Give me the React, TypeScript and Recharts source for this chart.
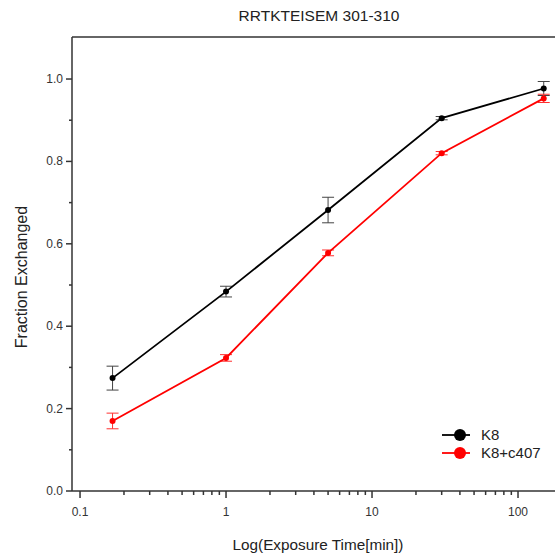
import React from "react";
import { LineChart, Line, XAxis, YAxis, ErrorBar, ReferenceLine } from "recharts";

const times = [0.167, 1, 5, 30, 150];
const k8 = [0.274, 0.484, 0.682, 0.905, 0.977];
const k8Err = [0.029, 0.013, 0.031, 0.004, 0.017];
const c407 = [0.17, 0.323, 0.578, 0.82, 0.953];
const c407Err = [0.019, 0.008, 0.007, 0.004, 0.01];

const seriesNames = ["K8", "K8+c407"];
const seriesColors = ["#000000", "#ff0000"];

const xTicks = [
  0.1, 0.2, 0.3, 0.4, 0.5, 0.6, 0.7, 0.8, 0.9,
  1, 2, 3, 4, 5, 6, 7, 8, 9,
  10, 20, 30, 40, 50, 60, 70, 80, 90,
  100,
];
const xMajor = [0.1, 1, 10, 100];
const xMajorLabels = ["0.1", "1", "10", "100"];
const yTicks = [0, 0.1, 0.2, 0.3, 0.4, 0.5, 0.6, 0.7, 0.8, 0.9, 1.0];
const yMajorLabels = ["0.0", "0.2", "0.4", "0.6", "0.8", "1.0"];

const data = times.map((t, i) => ({
  t,
  k8: k8[i],
  k8Err: k8Err[i],
  c407: c407[i],
  c407Err: c407Err[i],
}));

const FONT = "'Liberation Sans', Arial, sans-serif";
const AXIS = "#333";

const XTick = (props: any) => {
  const { x, y, payload } = props;
  const v = payload.value;
  const mi = xMajor.findIndex((m) => Math.abs(m - v) < 1e-9);
  const major = mi >= 0;
  return (
    <g>
      <line x1={x} x2={x} y1={y} y2={y + (major ? 7 : 4)} stroke={AXIS} strokeWidth={1.5} />
      {major && (
        <text x={x} y={y + 25} textAnchor="middle" fontSize={12} fontFamily={FONT} fill="#333">
          {xMajorLabels[mi]}
        </text>
      )}
    </g>
  );
};

const YTick = (props: any) => {
  const { x, y, payload } = props;
  const v = payload.value;
  const idx = Math.round(v * 10);
  const major = idx % 2 === 0;
  return (
    <g>
      <line x1={x} x2={x - (major ? 6 : 3)} y1={y} y2={y} stroke={AXIS} strokeWidth={1.5} />
      {major && (
        <text x={x - 9} y={y + 4} textAnchor="end" fontSize={12} fontFamily={FONT} fill="#333">
          {yMajorLabels[idx / 2]}
        </text>
      )}
    </g>
  );
};

const Y_MAX = 1.102;

export default function App() {
  return (
    <div
      style={{
        position: "absolute",
        left: 0,
        top: 0,
        width: 555,
        height: 559,
        overflow: "hidden",
        background: "#fff",
        fontFamily: FONT,
      }}
    >
      <LineChart
        width={555}
        height={559}
        data={data}
        margin={{ top: 37, right: 0, bottom: 0, left: 0 }}
      >
        <XAxis
          dataKey="t"
          type="number"
          scale="log"
          domain={[0.0881, 179.2]}
          allowDataOverflow
          ticks={xTicks}
          interval={0}
          tick={<XTick />}
          tickLine={false}
          tickSize={0}
          tickMargin={0}
          height={68}
          axisLine={{ stroke: AXIS, strokeWidth: 1.5 }}
        />
        <YAxis
          type="number"
          domain={[0, Y_MAX]}
          allowDataOverflow
          ticks={yTicks}
          interval={0}
          tick={<YTick />}
          tickLine={false}
          tickSize={0}
          tickMargin={0}
          width={72}
          axisLine={{ stroke: AXIS, strokeWidth: 1.5 }}
        />
        <ReferenceLine y={Y_MAX} stroke={AXIS} strokeWidth={1.5} />
        <Line
          dataKey="k8"
          stroke={seriesColors[0]}
          strokeWidth={1.8}
          dot={{ r: 3, fill: seriesColors[0], stroke: seriesColors[0], strokeWidth: 0 }}
          isAnimationActive={false}
        >
          <ErrorBar dataKey="k8Err" direction="y" width={6} stroke="#444" strokeWidth={1} />
        </Line>
        <Line
          dataKey="c407"
          stroke={seriesColors[1]}
          strokeWidth={1.8}
          dot={{ r: 3, fill: seriesColors[1], stroke: seriesColors[1], strokeWidth: 0 }}
          isAnimationActive={false}
        >
          <ErrorBar dataKey="c407Err" direction="y" width={6} stroke="#ff3030" strokeWidth={1} />
        </Line>
      </LineChart>

      <div
        style={{
          position: "absolute",
          left: 219,
          width: 200,
          top: 7,
          textAlign: "center",
          fontSize: 15.5,
          color: "#222",
        }}
      >
        RRTKTEISEM 301-310
      </div>

      <div
        style={{
          position: "absolute",
          left: 218,
          width: 200,
          top: 536,
          textAlign: "center",
          fontSize: 15.3,
          color: "#222",
        }}
      >
        Log(Exposure Time[min])
      </div>

      <div
        style={{
          position: "absolute",
          left: 22 - 100,
          top: 277 - 9,
          width: 200,
          height: 18,
          lineHeight: "18px",
          textAlign: "center",
          fontSize: 16,
          color: "#222",
          transform: "rotate(-90deg)",
          transformOrigin: "50% 50%",
        }}
      >
        Fraction Exchanged
      </div>

      {seriesNames.map((name, i) => (
        <div
          key={name}
          style={{
            position: "absolute",
            left: 440,
            top: 426 + i * 18,
            height: 18,
            display: "flex",
            alignItems: "center",
          }}
        >
          <svg width={36} height={18} style={{ display: "block" }}>
            <line x1={2} x2={30} y1={9} y2={9} stroke={seriesColors[i]} strokeWidth={1.8} />
            <circle cx={20} cy={9} r={6} fill={seriesColors[i]} />
          </svg>
          <span style={{ fontSize: 15, color: "#222", marginLeft: 5, lineHeight: "18px" }}>{name}</span>
        </div>
      ))}
    </div>
  );
}
